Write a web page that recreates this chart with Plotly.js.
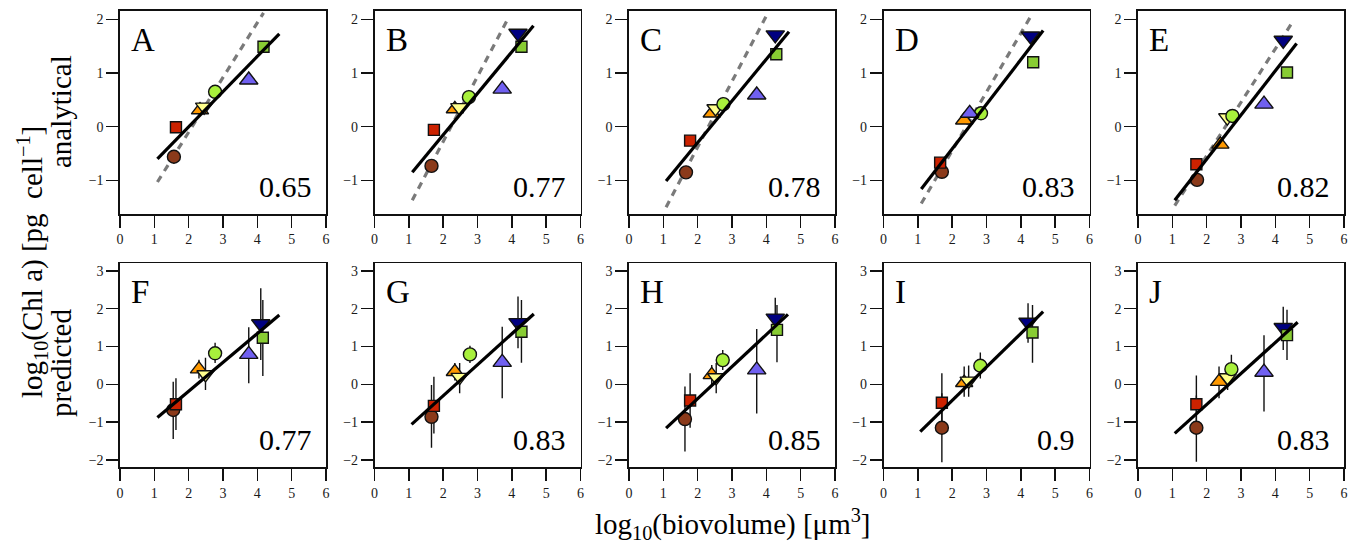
<!DOCTYPE html>
<html><head><meta charset="utf-8">
<script src="https://cdn.plot.ly/plotly-3.0.1.min.js"></script>
<style>html,body{margin:0;padding:0;background:#fff}</style>
</head><body><div id="chart" style="width:1361px;height:550px"></div>
<script>
// ---------- data ----------
const panelLetters = ['A','B','C','D','E','F','G','H','I','J'];
const r2Labels = ['0.65','0.77','0.78','0.83','0.82','0.77','0.83','0.85','0.9','0.83'];
const xTickVals = [0,1,2,3,4,5,6];
const topYTicks = [-1,0,1,2];
const botYTicks = [-2,-1,0,1,2,3];

// species order: brown circle, red square, orange tri-up, yellow tri-down,
// lime circle, blue tri-up, navy tri-down, green square
const speciesColors = ['#8B3A1A','#CC2200','#FF9900','#FFFF8C','#A8F03C','#7060F0','#000080','#88CC33'];
const speciesSymbols = ['circle','square','triangle-up','triangle-down','circle','triangle-up','triangle-down','square'];

// analytical (top row)
const xA = [1.57,1.63,2.33,2.45,2.77,3.75,null,4.18];
const yA = [-0.56,-0.01,0.31,0.37,0.65,0.87,null,1.49];
const xB = [1.66,1.73,2.34,2.47,2.75,3.72,4.18,4.28];
const yB = [-0.73,-0.06,0.33,0.36,0.55,0.70,1.74,1.49];
const xC = [1.66,1.78,2.41,2.52,2.75,3.72,4.26,4.29];
const yC = [-0.85,-0.26,0.25,0.34,0.42,0.59,1.71,1.35];
const xD = [1.70,1.65,2.35,null,2.84,2.51,4.28,4.36];
const yD = [-0.84,-0.67,0.12,null,0.25,0.25,1.69,1.20];
const xE = [1.72,1.70,2.40,2.60,2.75,3.67,4.23,4.34];
const yE = [-0.99,-0.70,-0.33,0.17,0.20,0.42,1.61,1.01];

// predicted (bottom row) with upper / lower ends of the vertical bars
const xF = [1.55,1.63,2.30,2.49,2.77,3.75,4.10,4.16];
const yF = [-0.68,-0.53,0.40,0.26,0.82,0.79,1.60,1.23];
const hiF = [0.07,0.16,0.65,0.70,1.10,1.51,2.54,2.23];
const loF = [-1.45,-1.21,0.15,-0.15,0.56,0.03,0.64,0.22];
const xG = [1.66,1.73,2.34,2.48,2.78,3.72,4.18,4.28];
const yG = [-0.86,-0.57,0.33,0.19,0.79,0.58,1.63,1.39];
const hiG = [-0.02,0.20,0.56,0.56,1.02,1.52,2.32,2.23];
const loG = [-1.68,-1.30,0.10,-0.24,0.56,-0.37,0.95,0.57];
const xH = [1.63,1.78,2.41,2.54,2.73,3.72,4.26,4.31];
const yH = [-0.92,-0.43,0.25,0.18,0.64,0.38,1.75,1.44];
const hiH = [-0.06,0.29,0.51,0.56,0.91,1.46,2.29,2.10];
const loH = [-1.78,-1.15,0.00,-0.24,0.38,-0.77,1.39,0.58];
const xI = [1.70,1.70,2.35,2.48,2.82,null,4.21,4.34];
const yI = [-1.15,-0.49,0.04,0.09,0.49,null,1.64,1.37];
const hiI = [-0.24,0.29,0.47,0.50,0.84,null,2.14,2.10];
const loI = [-2.06,-1.27,-0.33,-0.33,0.15,null,1.10,0.57];
const xJ = [1.70,1.70,2.36,2.61,2.72,3.67,4.23,4.34];
const yJ = [-1.15,-0.53,0.07,0.18,0.40,0.32,1.50,1.30];
const hiJ = [-0.30,0.23,0.47,0.50,0.78,1.30,2.05,1.97];
const loJ = [-2.05,-1.25,-0.37,-0.15,0.07,-0.72,0.91,0.64];

// regression lines (solid) and reference lines (dashed, top row only)
const solidX = [[1.09,4.64],[1.10,4.63],[1.08,4.66],[1.10,4.65],[1.07,4.62],
                [1.09,4.64],[1.08,4.64],[1.08,4.63],[1.07,4.65],[1.07,4.65]];
const solidY = [[-0.60,1.73],[-0.85,1.88],[-1.01,1.77],[-1.16,1.79],[-1.37,1.55],
                [-0.88,1.83],[-1.06,1.86],[-1.16,1.85],[-1.25,1.92],[-1.30,1.64]];
const dashX = [[1.09,4.18],[1.10,3.87],[1.08,4.03],[1.10,4.33],[1.07,4.52]];
const dashY = [[-1.03,2.12],[-1.37,1.99],[-1.50,2.10],[-1.43,2.10],[-1.47,1.97]];

const panelX = [xA,xB,xC,xD,xE,xF,xG,xH,xI,xJ];
const panelY = [yA,yB,yC,yD,yE,yF,yG,yH,yI,yJ];
const panelHi = [null,null,null,null,null,hiF,hiG,hiH,hiI,hiJ];
const panelLo = [null,null,null,null,null,loF,loG,loH,loI,loJ];

// ---------- layout geometry ----------
const W = 1361, H = 550;
const FONT = '"Liberation Serif", serif';
const panelW = 206, panelStep = 254.5, panelL0 = 120;
const rowTop = [[11,214],[263.3,467.3]];
const yRanges = [[-1.626,2.155],[-2.196,3.20]];
const sizes = [13,11,15,15,13,16,16,11];

const traces = [];
const layout = {
  width: W, height: H, margin: {l:0,r:0,t:0,b:0},
  paper_bgcolor:'#fff', plot_bgcolor:'#fff', showlegend:false,
  font: {family: FONT, color:'#111', size:14},
  annotations: []
};

for (let i = 0; i < 10; i++) {
  const row = i < 5 ? 0 : 1;
  const col = i % 5;
  const sfx = i === 0 ? '' : String(i+1);
  const xa = 'x' + sfx, ya = 'y' + sfx;
  const left = panelL0 + panelStep*col;
  const [t, b] = rowTop[row];
  layout['xaxis'+sfx] = {
    domain: [left/W, (left+panelW)/W], range: [0,6], anchor: ya,
    tickvals: xTickVals, ticks:'outside', ticklen: 12, tickwidth: 1.4, tickcolor:'#111',
    showline:true, mirror:true, linecolor:'#111', linewidth:1.6,
    showgrid:false, zeroline:false, fixedrange:true,
    tickfont:{family:FONT, size:14, color:'#1a1a1a'}
  };
  layout['yaxis'+sfx] = {
    domain: [1-b/H, 1-t/H], range: yRanges[row], anchor: xa,
    tickvals: row === 0 ? topYTicks : botYTicks, ticks:'outside', ticklen: 12, tickwidth:1.4, tickcolor:'#111',
    showline:true, mirror:true, linecolor:'#111', linewidth:1.6,
    showgrid:false, zeroline:false, fixedrange:true,
    tickfont:{family:FONT, size:14, color:'#1a1a1a'}
  };

  if (row === 0) {
    traces.push({x: dashX[i], y: dashY[i], xaxis: xa, yaxis: ya, mode:'lines',
      line:{color:'#7a7a7a', width:3.2, dash:'7px,6px'}, hoverinfo:'skip'});
  }
  const pt = {
    x: panelX[i], y: panelY[i], xaxis: xa, yaxis: ya, mode:'markers',
    marker:{color: speciesColors, symbol: speciesSymbols, size: sizes, opacity: 1,
            line:{color:'#111', width:1.4}},
    error_x:{type:'constant', value:0.13, thickness:1.4, width:0, color:'#111'},
    cliponaxis:false
  };
  if (panelHi[i]) {
    pt.error_y = {type:'data', symmetric:false,
      array: panelHi[i].map((h,k)=> h===null ? null : h - panelY[i][k]),
      arrayminus: panelLo[i].map((l,k)=> l===null ? null : panelY[i][k] - l),
      thickness:1.4, width:0, color:'#111'};
  }
  traces.push(pt);
  traces.push({x: solidX[i], y: solidY[i], xaxis: xa, yaxis: ya, mode:'lines',
    line:{color:'#000', width:3.2}, hoverinfo:'skip'});

  layout.annotations.push({
    text: panelLetters[i], xref: xa+' domain', yref: ya+' domain',
    x: 0.045, y: 0.955, xanchor:'left', yanchor:'top', showarrow:false,
    font:{family:FONT, size:33, color:'#000'}
  });
  layout.annotations.push({
    text: r2Labels[i], xref: xa+' domain', yref: ya+' domain',
    x: 0.94, y: 0.045, xanchor:'right', yanchor:'bottom', showarrow:false,
    font:{family:FONT, size:30, color:'#000'}
  });
}

// axis titles as paper annotations
layout.annotations.push({
  text:'log<sub>10</sub>(Chl a) [pg\u00A0\u00A0cell<sup>−1</sup>]', xref:'paper', yref:'paper',
  x: 32/W, y: 1-262/H, textangle:-90, showarrow:false, xanchor:'center', yanchor:'middle',
  font:{family:FONT, size:29, color:'#000'}
});
layout.annotations.push({
  text:'analytical', xref:'paper', yref:'paper',
  x: 61/W, y: 1-112/H, textangle:-90, showarrow:false, xanchor:'center', yanchor:'middle',
  font:{family:FONT, size:29, color:'#000'}
});
layout.annotations.push({
  text:'predicted', xref:'paper', yref:'paper',
  x: 61/W, y: 1-363/H, textangle:-90, showarrow:false, xanchor:'center', yanchor:'middle',
  font:{family:FONT, size:29, color:'#000'}
});
layout.annotations.push({
  text:'log<sub>10</sub>(biovolume) [μm<sup>3</sup>]', xref:'paper', yref:'paper',
  x: 733/W, y: 1-524/H, showarrow:false, xanchor:'center', yanchor:'middle',
  font:{family:FONT, size:29, color:'#000'}
});

Plotly.newPlot('chart', traces, layout, {staticPlot:true, displayModeBar:false});
</script></body></html>
